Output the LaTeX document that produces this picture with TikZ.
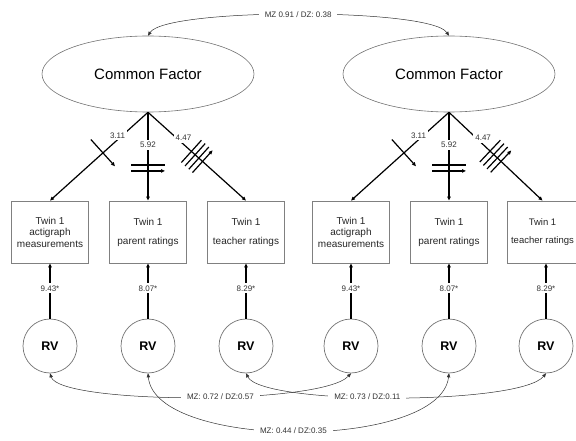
\documentclass[tikz,border=0pt]{standalone}
\usepackage{fontspec}
\setmainfont{Liberation Sans}
\usepackage{tikz}
\usetikzlibrary{positioning, calc}
\usetikzlibrary{arrows.meta}
\usetikzlibrary{shapes,decorations.markings}

\begin{document}
\begin{tikzpicture}[x=1pt,y=-1pt,>={Triangle[length=4pt,width=3.4pt]},draw=black!100]
	\def \factorht{74}
	\def \boxht{232}
	\def \rvht{346}
	\tikzstyle{f-node}=[ellipse,draw=black!55,line width=0.6pt,minimum width=212pt,minimum height=76pt,font=\fontsize{15}{18}\selectfont]
	\tikzstyle{b-node}=[rectangle,draw=black!50,line width=0.8pt,minimum width=77pt,minimum height=62pt,align=center,text=black!85,font=\fontsize{10}{11.5}\selectfont]
	\tikzstyle{rv-node}=[circle,draw=black!55,line width=0.7pt,minimum size=54pt,inner sep=0pt,font=\fontsize{12.5}{14}\selectfont\bfseries]
	\tikzstyle{load}=[->,line width=1.2pt]
	\tikzstyle{corr}=[<->,line width=0.5pt,draw=black!80]
	\tikzstyle{annot}=[fill=white,inner sep=2pt,text=black!80,font=\fontsize{8}{9}\selectfont]
	\tikzstyle{cannot}=[annot,inner xsep=6pt]
	\tikzstyle{onebar}=[postaction={decorate},decoration={markings,mark=at position 0.46 with {\draw[line width=1.2pt] (0pt,-18pt) -- (0pt,18pt);}}]
	\tikzstyle{twobar}=[postaction={decorate},decoration={markings,mark=at position 0.63 with {\draw[line width=1.2pt] (-3pt,-17pt) -- (-3pt,17pt) (3pt,-17pt) -- (3pt,17pt);}}]
	\tikzstyle{fourbar}=[postaction={decorate},decoration={markings,mark=at position 0.5 with {\draw[line width=1.2pt] (-7.5pt,-15pt) -- (-7.5pt,15pt) (-2.5pt,-15pt) -- (-2.5pt,15pt) (2.5pt,-15pt) -- (2.5pt,15pt) (7.5pt,-15pt) -- (7.5pt,15pt);}}]
	\useasboundingbox (0,0) rectangle (576,441);

	% common factors
	\node[f-node] (cfA) at (148,\factorht) {Common Factor};
	\node[f-node] (cfB) at (449,\factorht) {Common Factor};

	% twin measures
	\node[b-node] (bA1) at (50,\boxht)  {Twin 1\\actigraph\\measurements};
	\node[b-node] (bA2) at (148,\boxht) {Twin 1\\[7.5pt]parent ratings};
	\node[b-node] (bA3) at (246,\boxht) {Twin 1\\[7.5pt]teacher ratings};
	\node[b-node] (bB1) at (351,\boxht) {Twin 1\\actigraph\\measurements};
	\node[b-node] (bB2) at (449,\boxht) {Twin 1\\[7.5pt]parent ratings};
	\node[b-node,minimum width=66pt,font=\fontsize{9.5}{11}\selectfont] (bB3) at (542.5,\boxht) {Twin 1\\[7.5pt]teacher ratings};

	% residual variances
	\node[rv-node] (rvA1) at (50,\rvht)  {RV};
	\node[rv-node] (rvA2) at (148,\rvht) {RV};
	\node[rv-node] (rvA3) at (246,\rvht) {RV};
	\node[rv-node] (rvB1) at (351,\rvht) {RV};
	\node[rv-node] (rvB2) at (449,\rvht) {RV};
	\node[rv-node] (rvB3) at (546,\rvht) {RV};

	\path
		(cfA.south)	edge[load,onebar]	node[annot,pos=0.26,xshift=-5pt]	{3.11}	(bA1.north)
		(cfA.south)	edge[load,twobar]	node[annot,pos=0.37]	{5.92}	(bA2.north)
		(cfA.south)	edge[load,fourbar]	node[annot,pos=0.29,xshift=7pt]	{4.47}	(bA3.north)
		%
		(cfB.south)	edge[load,onebar]	node[annot,pos=0.26,xshift=-5pt]	{3.11}	(bB1.north)
		(cfB.south)	edge[load,twobar]	node[annot,pos=0.37]	{5.92}	(bB2.north)
		(cfB.south)	edge[load,fourbar]	node[annot,pos=0.29,xshift=7pt]	{4.47}	(bB3.north)
		%
		(rvA1)	edge[load]	node[annot,pos=0.55]	{9.43*}	(bA1)
		(rvA2)	edge[load]	node[annot,pos=0.55]	{8.07*}	(bA2)
		(rvA3)	edge[load]	node[annot,pos=0.55]	{8.29*}	(bA3)
		(rvB1)	edge[load]	node[annot,pos=0.55]	{9.43*}	(bB1)
		(rvB2)	edge[load]	node[annot,pos=0.55]	{8.07*}	(bB2)
		(rvB3)	edge[load]	node[annot,pos=0.55]	{8.29*}	(bB3.south -| rvB3);

	% twin correlations
	\draw[corr] (cfA.north) .. controls +(18,-28) and +(-19,-28) .. node[cannot,pos=0.5] {MZ 0.91 / DZ: 0.38} (cfB.north);
	\draw[corr] (rvA1.south) .. controls +(10,31) and +(-30,32) .. node[cannot,pos=0.565] {MZ: 0.72 / DZ:0.57} (rvB1.south);
	\draw[corr] (rvA3.south) .. controls +(16,32) and +(-26,32) .. node[cannot,pos=0.44] {MZ: 0.73 / DZ:0.11} (rvB3.south);
	\draw[corr] (rvA2.south) .. controls +(7,77) and +(-9,77) .. node[cannot,pos=0.49] {MZ: 0.44 / DZ:0.35} (rvB2.south);
\end{tikzpicture}
\end{document}
